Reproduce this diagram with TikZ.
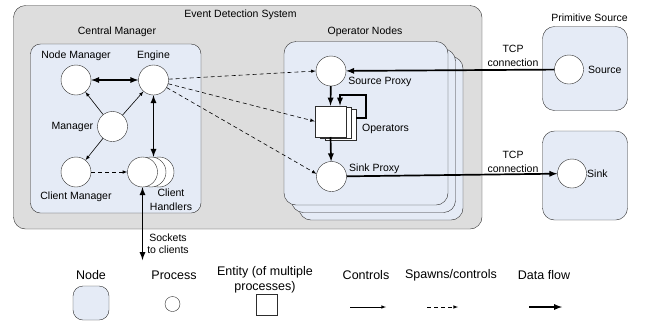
\documentclass[tikz,border=0pt]{standalone}
\usepackage{fontspec}
\setmainfont{Liberation Sans}
\usetikzlibrary{arrows,positioning,calc}
\definecolor{sysgray}{RGB}{221,221,221}
\definecolor{hostblue}{RGB}{229,235,246}
\definecolor{rim}{RGB}{45,45,45}
\tikzset{
  lbl/.style       = {font=\fontsize{10.5}{14}\selectfont, inner sep=0pt, align=center},
  keylbl/.style    = {font=\fontsize{12.5}{15}\selectfont, inner sep=0pt, align=center},
  every label/.style = {lbl},
  system/.style    = {draw=rim, fill=sysgray, rounded corners=12pt},
  host/.style      = {draw=rim, fill=hostblue, rounded corners=10pt},
  process/.style   = {draw=rim, circle, fill=white, minimum size=30pt, inner sep=0pt},
  entity/.style    = {draw=rim, rectangle, fill=white, minimum size=31pt, inner sep=0pt},
  ctrl/.style      = {-latex, line width=0.6pt},
  spawn/.style     = {ctrl, dash pattern=on 4pt off 3pt},
  data/.style      = {-latex, line width=1.7pt},
  data both/.style = {latex-latex, line width=1.7pt}
}

\begin{document}
\begin{tikzpicture}[x=1pt, y=-1pt]
  \useasboundingbox (0,0) rectangle (648,325);

  % event detection system with its central manager and operator nodes
  \draw[system] (13.5,5.5) rectangle (482,229);
  \node[lbl] (edstitle) at (240.5,15) {Event Detection System};
  \node[lbl] (cmtitle) at (117,32) {Central Manager};
  \draw[host] (30.5,44) rectangle (201,213);
  \node[lbl] (ontitle) at (365,31.5) {Operator Nodes};
  \foreach \s in {15,7.5,0}
    \draw[host, rounded corners=12pt] (284+\s,41.5+\s) rectangle (448+\s,205+\s);

  % outside hosts
  \node[lbl] (pstitle) at (589.5,17.5) {Primitive Source};
  \draw[host, rounded corners=12pt] (542.5,26.5) rectangle (627.5,110.5);
  \draw[host, rounded corners=12pt] (542.5,131) rectangle (627.5,220);

  % central manager
  \node[process, label={[label distance=4pt]above:Node Manager}] (nodemgr) at (76,80) {};
  \node[process, label={[label distance=4pt]above:Engine}] (engine) at (153.5,80) {};
  \node[process, label={[label distance=4pt]left:Manager}] (mgr) at (112.5,126.5) {};
  \node[process, label={[label distance=4pt]below:Client Manager}] (clientmgr) at (76,172) {};
  \node[process] (handler3) at (159,172) {};
  \node[process] (handler2) at (151,172) {};
  \node[process] (handler) at (142.5,172) {};
  \node[lbl] (handlerlbl) at (171,200) {Client\\Handlers};

  % operator node
  \node[process] (srcproxy) at (331,71) {};
  \node[lbl, anchor=west] (srcproxylbl) at ($(srcproxy.east)+(2,11)$) {Source Proxy};
  \node[entity] (ops3) at (340.5,124.5) {};
  \node[entity] (ops2) at (335.5,122.9) {};
  \node[entity] (ops) at (330.5,121.3) {};
  \node[lbl, anchor=west] (opslbl) at (362,129) {Operators};
  \node[process] (sinkproxy) at (331.5,176.5) {};
  \node[lbl, anchor=west] (sinkproxylbl) at (349,169) {Sink Proxy};

  % source and sink
  \node[process, minimum size=29pt] (source) at (569,69.5) {};
  \node[lbl, anchor=west] (sourcelbl) at (588,69.5) {Source};
  \node[process, minimum size=29pt] (sink) at (572,173.5) {};
  \node[lbl, anchor=west] (sinklbl) at (587,173.5) {Sink};

  % controls and spawns
  \draw[ctrl] (mgr) -- (nodemgr);
  \draw[ctrl] (mgr) -- (engine);
  \draw[ctrl] (mgr) -- (clientmgr);
  \draw[spawn] (clientmgr) -- (handler);
  \draw[spawn] (engine) -- (srcproxy.west);
  \draw[spawn] (engine) -- (ops.west);
  \draw[spawn] (engine) -- (sinkproxy.170);

  % data flow
  \draw[data both] (nodemgr) -- (engine);
  \draw[data both] (engine.south) -- (engine.south |- handler2.north);
  \coordinate (clients) at (142.5,260);
  \draw[data both] (handler.south) -- (clients);
  \node[lbl, font=\fontsize{10.5}{12}\selectfont] (clientslbl) at (168,244) {Sockets\\to clients};
  \draw[data] (srcproxy) -- (ops.north);
  \draw[data] ([yshift=6.5pt]ops3.east) -- ++(10,0) -- ++(0,-23) -| ([xshift=9.5pt]ops.north);
  \draw[data] (ops.south) -- (sinkproxy);
  \draw[data] (source) -- (srcproxy);
  \node[lbl] (tcpin) at (513,55.5) {TCP\\connection};
  \draw[data] (sinkproxy) -- (sink);
  \node[lbl] (tcpout) at (513,161.5) {TCP\\connection};

  % legend
  \node[keylbl] (keyhost) at (91,275) {Node};
  \node[host, minimum width=36pt, minimum height=34pt] (keyhostbox) at (91,303) {};
  \node[keylbl] (keyproc) at (174,275) {Process};
  \node[process, minimum size=15pt] (keyprocdot) at (172.5,304) {};
  \node[keylbl] (keyent) at (265,279.5) {Entity (of multiple\\processes)};
  \node[entity, minimum size=21pt] (keyentbox) at (267,304.5) {};
  \node[keylbl] (keyctrl) at (366,275) {Controls};
  \node[keylbl] (keyspawn) at (451,275) {Spawns/controls};
  \node[keylbl] (keydata) at (544,275) {Data flow};
  \coordinate (ctrlA) at (350,307);   \coordinate (ctrlB) at (386,307);
  \coordinate (spawnA) at (427,307);  \coordinate (spawnB) at (458,307);
  \coordinate (dataA) at (529,307);   \coordinate (dataB) at (562,307);
  \draw[ctrl] (ctrlA) -- (ctrlB);
  \draw[spawn] (spawnA) -- (spawnB);
  \draw[data] (dataA) -- (dataB);
\end{tikzpicture}
\end{document}
